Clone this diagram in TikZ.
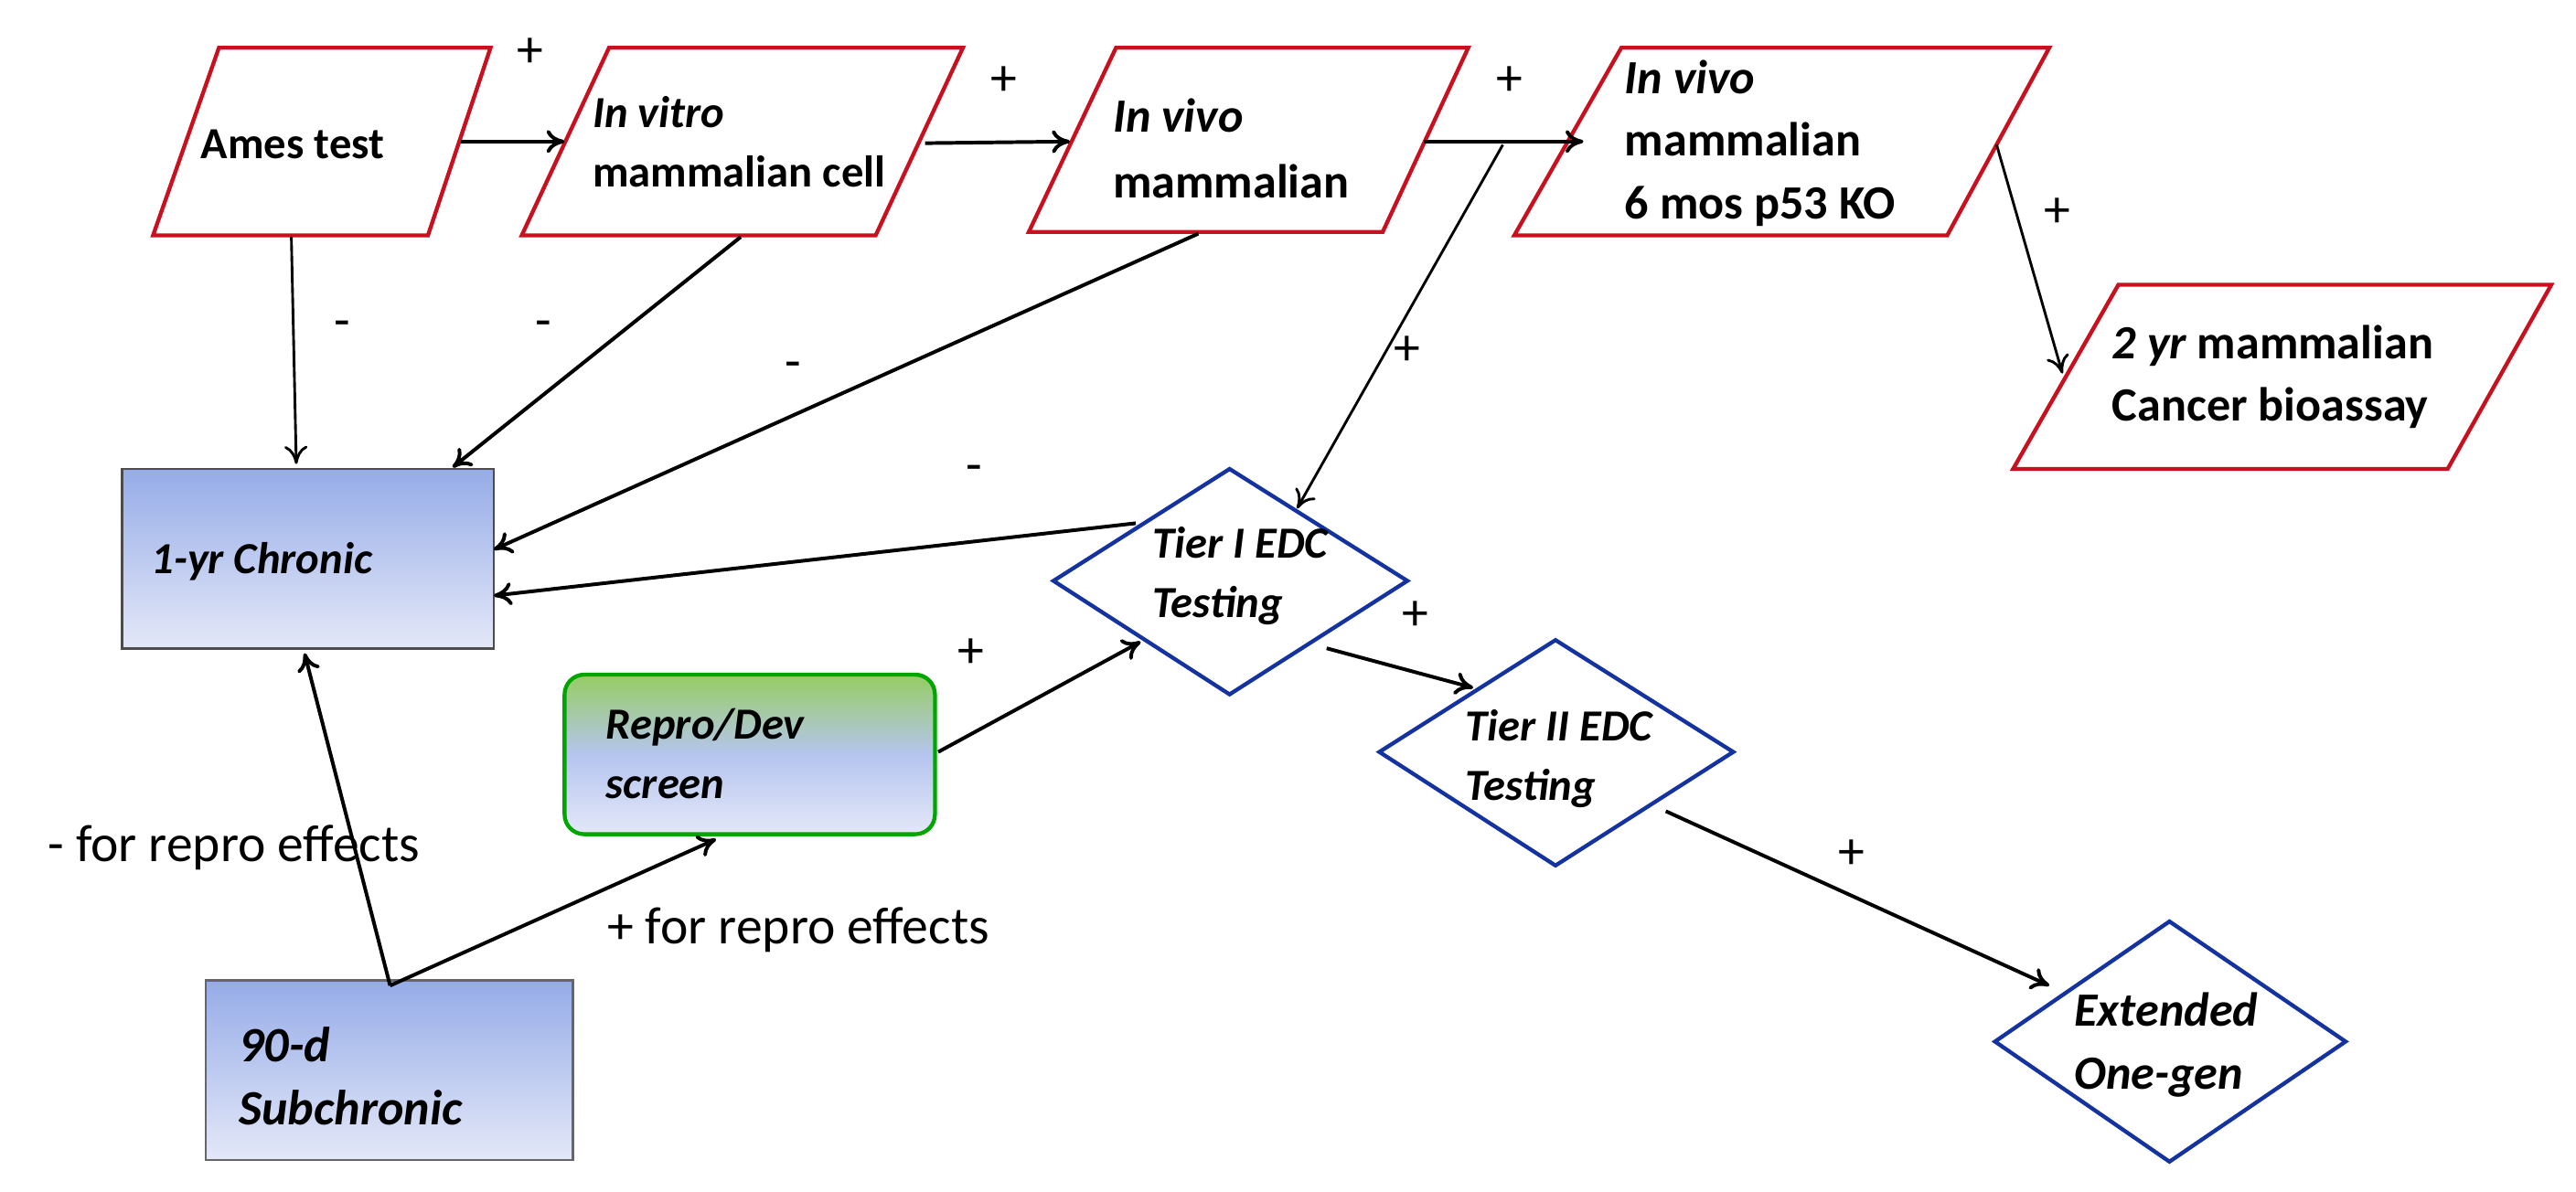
\documentclass[tikz,border=0pt]{standalone}
\usepackage{fontspec}
\setmainfont{Carlito}
\usetikzlibrary{arrows.meta,calc}
\definecolor{btop}{RGB}{150,172,232}
\definecolor{bbot}{RGB}{228,232,248}
\definecolor{gtop}{RGB}{150,205,100}
\definecolor{redl}{RGB}{200,16,30}
\definecolor{bluel}{RGB}{20,50,160}
\begin{document}
\begin{tikzpicture}[x=1pt,y=-1pt,
 par/.style={draw=redl,fill=white,line width=2.4pt},
 dia/.style={draw=bluel,fill=white,line width=2.4pt},
 t/.style={font=\bfseries\itshape\fontsize{27}{36}\selectfont,align=left,anchor=west,inner sep=0pt},
 tu/.style={font=\bfseries\fontsize{27}{37}\selectfont,align=left,anchor=west,inner sep=0pt},
 lab/.style={font=\fontsize{32}{36}\selectfont},
 arr/.style={-{To[length=11pt,width=14pt]},black,line width=2.2pt}]
\useasboundingbox (0,0) rectangle (1565,724);
% parallelograms
\draw[par] (133,29)--(298,29)--(260,143)--(93,143)--cycle;
\node[tu] (ames) at (122,88) {Ames test};
\draw[par] (370,29)--(585,29)--(532,143)--(317,143)--cycle;
\node[t] (vitro) at (360,86) {In vitro\\\upshape mammalian cell};
\draw[par] (678,29)--(892,29)--(840,141)--(625,141)--cycle;
\node[tu,font=\bfseries\fontsize{29}{40}\selectfont] (vivo) at (676,90) {\itshape In vivo\\mammalian};
\draw[par] (985,29)--(1245,29)--(1183,143)--(920,143)--cycle;
\node[tu,font=\bfseries\fontsize{29}{38}\selectfont] (p53) at (987,87) {\itshape In vivo\\mammalian\\6 mos p53 KO};
\draw[par] (1287,173)--(1550,173)--(1487,285)--(1223,285)--cycle;
\node[tu,font=\bfseries\fontsize{29}{38}\selectfont] (two) at (1283,229) {\itshape 2 yr \upshape mammalian\\Cancer bioassay};
% rectangles
\shade[top color=btop,bottom color=bbot] (74,285) rectangle (300,394);
\draw[line width=1.6pt,draw=black!70] (74,285) rectangle (300,394);
\node[t] (chron) at (92,341) {1-yr Chronic};
\shade[top color=btop,bottom color=bbot] (125,596) rectangle (348,705);
\draw[line width=1.6pt,draw=black!60] (125,596) rectangle (348,705);
\node[t,font=\bfseries\itshape\fontsize{30}{38}\selectfont] (sub) at (145,654) {90-d\\Subchronic};
\shade[rounded corners=12pt,top color=gtop,bottom color=bbot,middle color=btop!70] (343,410) rectangle (568,507);
\draw[rounded corners=12pt,draw=green!65!black,line width=2.4pt] (343,410) rectangle (568,507);
\node[t] (repro) at (368,458) {Repro/Dev\\screen};
% diamonds
\draw[dia] (747,285)--(855,353)--(747,422)--(640,353)--cycle;
\node[t] (t1) at (700,350) {Tier I EDC\\Testing};
\draw[dia] (945,389)--(1053,457)--(945,526)--(838,457)--cycle;
\node[t] (t2) at (890,461) {Tier II EDC\\Testing};
\draw[dia] (1318,560)--(1425,633)--(1318,706)--(1212,633)--cycle;
\node[t,font=\bfseries\itshape\fontsize{29}{38}\selectfont] (ext) at (1260,635) {Extended\\One-gen};
% coordinates
\coordinate (a1) at (280,86); \coordinate (a2) at (343,86);
\coordinate (b1) at (562,87); \coordinate (b2) at (650,86);
\coordinate (c1) at (865,86); \coordinate (c2) at (962,86);
\coordinate (d1) at (1213,88); \coordinate (d2) at (1253,227);
\coordinate (e1) at (177,144); \coordinate (e2) at (180,282);
\coordinate (f1) at (450,144); \coordinate (f2) at (275,284);
\coordinate (g1) at (728,142); \coordinate (g2) at (300,334);
\coordinate (br) at (913,88); \coordinate (h2) at (788,309);
\coordinate (i1) at (690,318); \coordinate (i2) at (300,362);
\coordinate (j0) at (237,599); \coordinate (j2) at (185,397);
\coordinate (k2) at (435,510);
\coordinate (l1) at (570,457); \coordinate (l2) at (693,390);
\coordinate (m1) at (806,394); \coordinate (m2) at (895,418);
\coordinate (n1) at (1012,493); \coordinate (n2) at (1245,599);
\draw[arr] (a1)--(a2); \draw[arr] (b1)--(b2); \draw[arr] (c1)--(c2); \draw[arr,line width=1.6pt] (d1)--(d2);
\draw[arr,line width=1.6pt] (e1)--(e2); \draw[arr] (f1)--(f2); \draw[arr] (g1)--(g2); \draw[arr,line width=1.6pt] (br)--(h2);
\draw[arr] (i1)--(i2); \draw[arr] (j0)--(j2); \draw[arr] (j0)--(k2); \draw[arr] (l1)--(l2);
\draw[arr] (m1)--(m2); \draw[arr] (n1)--(n2);
% labels
\node[lab] (p1) at (322,32) {+}; \node[lab] (p2) at (610,49) {+}; \node[lab] (p3) at (917,49) {+};
\node[lab] (p4) at (1250,129) {+}; \node[lab] (p5) at (855,213) {+}; \node[lab] (p6) at (590,397) {+};
\node[lab] (p7) at (860,374) {+}; \node[lab] (p8) at (1125,519) {+};
\node[lab] (m1l) at (208,200) {-}; \node[lab] (m2l) at (330,200) {-}; \node[lab] (m3l) at (482,225) {-};
\node[lab] (m4l) at (592,288) {-};
\node[lab] (rep1) at (142,515) {- for repro effects};
\node[lab] (rep2) at (485,565) {+ for repro effects};
\end{tikzpicture}
\end{document}
